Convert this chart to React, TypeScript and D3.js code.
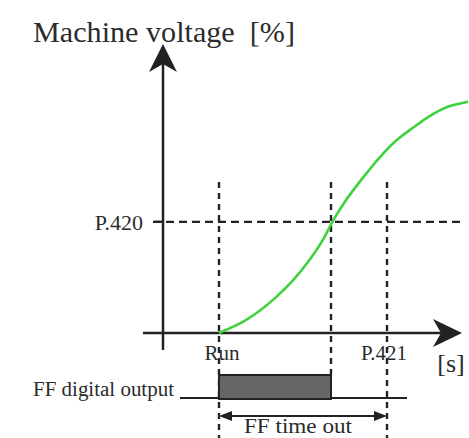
import React from "react";
import * as d3 from "d3";

// Machine voltage ramp (time in arbitrary units, voltage in %)
const curveTime = [2, 2.85, 3.45, 4.05, 4.65, 5.25, 5.7, 6.05, 6.55, 7.15, 7.75, 8.35, 8.95, 9.55, 10.15, 10.9];
const curveVoltage = [0, 4, 8, 13, 19, 26.5, 33.3, 40, 48, 56, 63.3, 69.4, 74, 78.2, 81.3, 83.2];

const runTime = 2;
const outputEndTime = 6;
const p421Time = 8;
const p420Value = 40;

const titleText = "Machine voltage  [%]";
const p420Label = "P.420";
const runLabel = "Run";
const p421Label = "P.421";
const unitLabel = "[s]";
const outputLabel = "FF digital output";
const timeoutLabel = "FF time out";

const W = 469;
const H = 438;

export default function App() {
  const x = d3.scaleLinear().domain([0, 10]).range([163, 443]);
  const y = d3.scaleLinear().domain([0, 100]).range([333, 55]);

  const pts: [number, number][] = curveTime.map((t, i) => [t, curveVoltage[i]]);
  const line = d3
    .line<[number, number]>()
    .x((d) => x(d[0]))
    .y((d) => y(d[1]))
    .curve(d3.curveCatmullRom.alpha(0.5));

  const x0 = x(0);
  const y0 = y(0);
  const axisColor = "#222";
  const textColor = "#2b2b2b";
  const font = "'Liberation Serif', 'Times New Roman', serif";

  const yTip = 44;
  const xTip = 462;

  const pulseTop = 375;
  const pulseBottom = 399;
  const arrowY = 416;
  const dashTop = 182;

  const xr = x(runTime);
  const xe = x(outputEndTime);
  const xp = x(p421Time);

  return (
    <svg
      width={W}
      height={H}
      style={{ position: "absolute", left: 0, top: 0, background: "#fff" }}
    >
      {/* title */}
      <text
        x={33}
        y={42}
        fontFamily={font}
        fontSize={29}
        fill={textColor}
        textLength={262}
        lengthAdjust="spacingAndGlyphs"
        style={{ whiteSpace: "pre" }}
      >
        {titleText}
      </text>

      {/* dashed guides */}
      <g stroke={axisColor} strokeWidth={2.4} strokeDasharray="6,5" fill="none">
        <line x1={xr} x2={xr} y1={dashTop} y2={H} />
        <line x1={xe} x2={xe} y1={dashTop} y2={pulseTop} />
        <line x1={xp} x2={xp} y1={dashTop} y2={H} />
      </g>
      <line
        x1={153}
        x2={462}
        y1={y(p420Value)}
        y2={y(p420Value)}
        stroke={axisColor}
        strokeWidth={2.2}
        strokeDasharray="8,5"
      />

      {/* axes */}
      <line x1={x0} x2={x0} y1={350} y2={yTip + 12} stroke={axisColor} strokeWidth={2.5} />
      <path
        d={`M${x0},${yTip} L${x0 + 14},${yTip + 28} L${x0},${yTip + 20} L${x0 - 14},${yTip + 28} Z`}
        fill={axisColor}
      />
      <line x1={143} x2={xTip - 12} y1={y0} y2={y0} stroke={axisColor} strokeWidth={2.5} />
      <path
        d={`M${xTip},${y0} L${xTip - 29},${y0 - 14} L${xTip - 21},${y0} L${xTip - 29},${y0 + 14} Z`}
        fill={axisColor}
      />
      {/* P.420 tick */}
      <line x1={x0 - 8} x2={x0} y1={y(p420Value)} y2={y(p420Value)} stroke={axisColor} strokeWidth={2.2} />

      {/* voltage curve */}
      <path d={line(pts) || ""} fill="none" stroke="#3fd23f" strokeWidth={2.6} />

      {/* labels */}
      <text x={143} y={y(p420Value) + 8} textAnchor="end" fontFamily={font} fontSize={22} fill={textColor}>
        {p420Label}
      </text>
      <text x={xr + 3} y={360} textAnchor="middle" fontFamily={font} fontSize={21} fill={textColor}>
        {runLabel}
      </text>
      <text x={xp - 3} y={360} textAnchor="middle" fontFamily={font} fontSize={21} fill={textColor}>
        {p421Label}
      </text>
      <text x={451} y={372} textAnchor="middle" fontFamily={font} fontSize={26} fill={textColor}>
        {unitLabel}
      </text>

      {/* digital output */}
      <line x1={180} x2={407} y1={398} y2={398} stroke={axisColor} strokeWidth={2} />
      <rect
        x={xr}
        y={pulseTop}
        width={xe - xr}
        height={pulseBottom - pulseTop}
        fill="#666"
        stroke={axisColor}
        strokeWidth={2}
      />
      <text
        x={174}
        y={396}
        textAnchor="end"
        fontFamily={font}
        fontSize={20}
        fill={textColor}
        textLength={141}
        lengthAdjust="spacingAndGlyphs"
      >
        {outputLabel}
      </text>

      {/* time out double arrow */}
      <line x1={xr + 8} x2={xp - 8} y1={arrowY} y2={arrowY} stroke={axisColor} strokeWidth={2} />
      <path d={`M${xr},${arrowY} L${xr + 13},${arrowY - 5} L${xr + 13},${arrowY + 5} Z`} fill={axisColor} />
      <path d={`M${xp},${arrowY} L${xp - 13},${arrowY - 5} L${xp - 13},${arrowY + 5} Z`} fill={axisColor} />
      <text
        x={298}
        y={433}
        textAnchor="middle"
        fontFamily={font}
        fontSize={20}
        fill={textColor}
        textLength={108}
        lengthAdjust="spacingAndGlyphs"
      >
        {timeoutLabel}
      </text>
    </svg>
  );
}
